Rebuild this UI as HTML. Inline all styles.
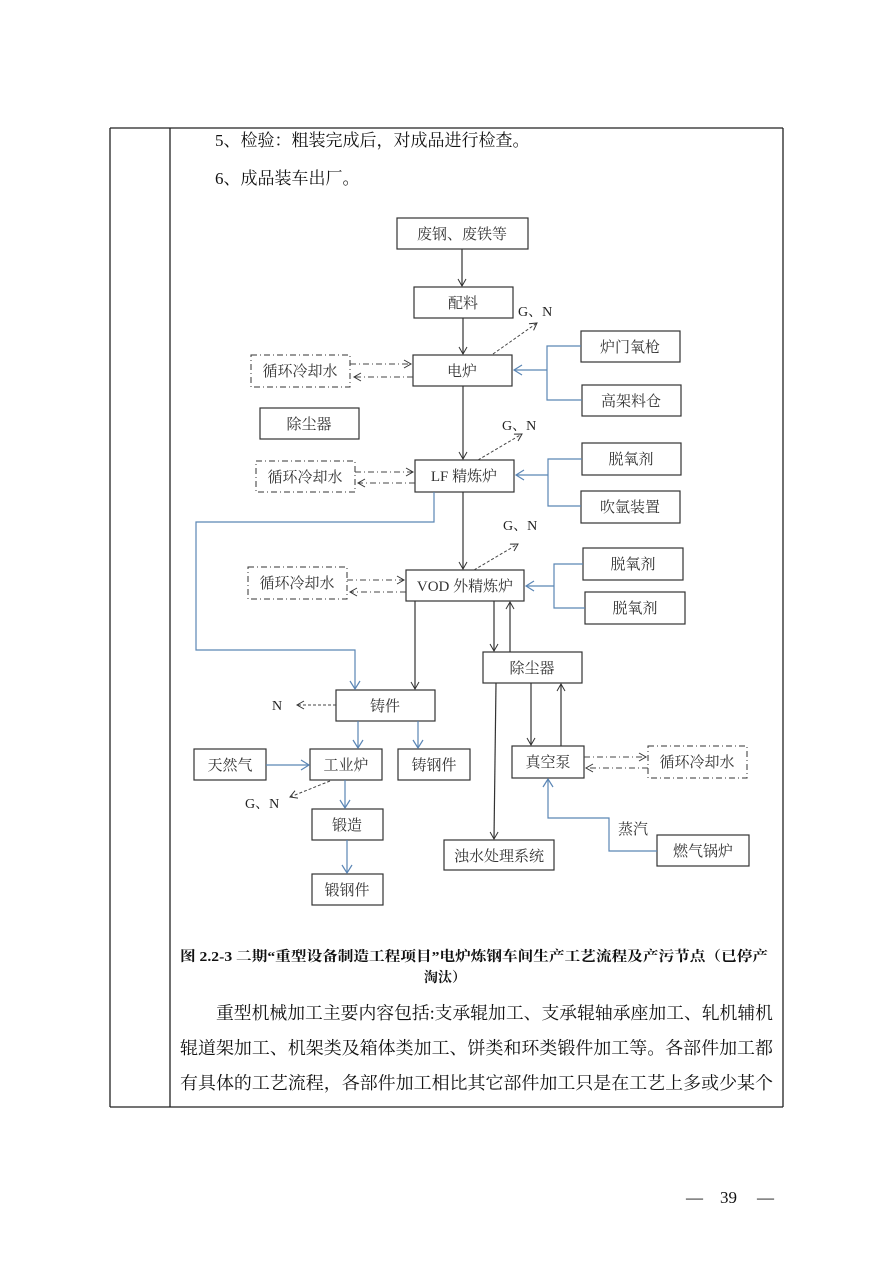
<!DOCTYPE html>
<html><head><meta charset="utf-8"><style>
html,body{margin:0;padding:0;background:#fff;}
svg{display:block;}
text{font-family:"Liberation Serif","Noto Serif CJK SC","Noto Sans CJK SC",serif;}
</style></head><body>
<svg width="892" height="1262" viewBox="0 0 892 1262" xmlns="http://www.w3.org/2000/svg">
<defs>
<marker id="ab" markerWidth="10" markerHeight="10" refX="8" refY="5" orient="auto" markerUnits="userSpaceOnUse"><path d="M1,1 L8,5 L1,9" fill="none" stroke="#333" stroke-width="1"/></marker>
<marker id="abl" markerWidth="12" markerHeight="12" refX="9" refY="6" orient="auto" markerUnits="userSpaceOnUse"><path d="M1,1 L9,6 L1,11" fill="none" stroke="#5b86b5" stroke-width="1.2"/></marker>
</defs>
<g stroke="#222" stroke-width="1.3" fill="none">
<line x1="110" y1="128" x2="783" y2="128"/>
<line x1="110" y1="1107" x2="783" y2="1107"/>
<line x1="110" y1="128" x2="110" y2="1107"/>
<line x1="170" y1="128" x2="170" y2="1107"/>
<line x1="783" y1="128" x2="783" y2="1107"/>
</g>
<g font-size="17" fill="#111">
<text x="215" y="146">5、检验：粗装完成后，对成品进行检查。</text>
<text x="215" y="184">6、成品装车出厂。</text>
</g>
<g stroke="#333" stroke-width="1.2" fill="#fff">
<rect x="397" y="218" width="131" height="31"/>
<rect x="414" y="287" width="99" height="31"/>
<rect x="413" y="355" width="99" height="31"/>
<rect x="260" y="408" width="99" height="31"/>
<rect x="581" y="331" width="99" height="31"/>
<rect x="582" y="385" width="99" height="31"/>
<rect x="415" y="460" width="99" height="32"/>
<rect x="582" y="443" width="99" height="32"/>
<rect x="581" y="491" width="99" height="32"/>
<rect x="406" y="570" width="118" height="31"/>
<rect x="583" y="548" width="100" height="32"/>
<rect x="585" y="592" width="100" height="32"/>
<rect x="336" y="690" width="99" height="31"/>
<rect x="194" y="749" width="72" height="31"/>
<rect x="310" y="749" width="72" height="31"/>
<rect x="398" y="749" width="72" height="31"/>
<rect x="312" y="809" width="71" height="31"/>
<rect x="312" y="874" width="71" height="31"/>
<rect x="483" y="652" width="99" height="31"/>
<rect x="512" y="746" width="72" height="32"/>
<rect x="444" y="840" width="110" height="30"/>
<rect x="657" y="835" width="92" height="31"/>
</g>
<g stroke="#333" stroke-width="1" fill="#fff" stroke-dasharray="6,3,1,3">
<rect x="251" y="355" width="99" height="32"/>
<rect x="256" y="461" width="99" height="31"/>
<rect x="248" y="567" width="99" height="32"/>
<rect x="648" y="746" width="99" height="32"/>
</g>
<g font-size="15" fill="#333" text-anchor="middle">
<text x="462" y="239">废钢、废铁等</text>
<text x="463" y="308">配料</text>
<text x="462" y="376">电炉</text>
<text x="309" y="429">除尘器</text>
<text x="630" y="352">炉门氧枪</text>
<text x="631" y="406">高架料仓</text>
<text x="464" y="481">LF 精炼炉</text>
<text x="631" y="464">脱氧剂</text>
<text x="630" y="512">吹氩装置</text>
<text x="465" y="591">VOD 外精炼炉</text>
<text x="633" y="569">脱氧剂</text>
<text x="635" y="613">脱氧剂</text>
<text x="385" y="711">铸件</text>
<text x="230" y="770">天然气</text>
<text x="346" y="770">工业炉</text>
<text x="434" y="770">铸钢件</text>
<text x="347" y="830">锻造</text>
<text x="347" y="895">锻钢件</text>
<text x="532" y="673">除尘器</text>
<text x="548" y="767">真空泵</text>
<text x="499" y="861">浊水处理系统</text>
<text x="703" y="856">燃气锅炉</text>
<text x="300" y="376">循环冷却水</text>
<text x="305" y="482">循环冷却水</text>
<text x="297" y="588">循环冷却水</text>
<text x="697" y="767">循环冷却水</text>
<text x="633" y="834">蒸汽</text>
</g>
<g font-size="14" fill="#222">
<text x="518" y="316">G、N</text>
<text x="502" y="430">G、N</text>
<text x="503" y="530">G、N</text>
<text x="272" y="710">N</text>
<text x="245" y="808">G、N</text>
</g>
<g stroke="#333" stroke-width="1.2" fill="none" marker-end="url(#ab)">
<line x1="462" y1="249" x2="462" y2="286"/>
<line x1="463" y1="318" x2="463" y2="354"/>
<line x1="463" y1="386" x2="463" y2="459"/>
<line x1="463" y1="492" x2="463" y2="569"/>
<line x1="415" y1="601" x2="415" y2="689"/>
<line x1="494" y1="601" x2="494" y2="651"/>
<line x1="510" y1="652" x2="510" y2="602"/>
<line x1="531" y1="683" x2="531" y2="745"/>
<line x1="561" y1="746" x2="561" y2="684"/>
<line x1="496" y1="683" x2="494" y2="839"/>
</g>
<g stroke="#444" stroke-width="1" fill="none" stroke-dasharray="3,2" marker-end="url(#ab)">
<line x1="493" y1="354" x2="537" y2="323"/>
<line x1="478" y1="460" x2="522" y2="434"/>
<line x1="474" y1="570" x2="518" y2="544"/>
<line x1="336" y1="705" x2="297" y2="705"/>
<line x1="330" y1="781" x2="290" y2="797"/>
</g>
<g stroke="#444" stroke-width="1" fill="none" stroke-dasharray="6,3,1,3" marker-end="url(#ab)">
<line x1="350" y1="364" x2="411" y2="364"/>
<line x1="413" y1="377" x2="354" y2="377"/>
<line x1="355" y1="472" x2="413" y2="472"/>
<line x1="415" y1="483" x2="358" y2="483"/>
<line x1="347" y1="580" x2="404" y2="580"/>
<line x1="406" y1="592" x2="350" y2="592"/>
<line x1="584" y1="757" x2="646" y2="757"/>
<line x1="648" y1="768" x2="586" y2="768"/>
</g>
<g stroke="#5b86b5" stroke-width="1.2" fill="none">
<polyline points="581,346 547,346 547,400 582,400"/>
<polyline points="582,459 548,459 548,506 581,506"/>
<polyline points="583,564 554,564 554,608 585,608"/>
<polyline points="657,851 609,851 609,818 548,818 548,779" marker-end="url(#abl)"/>
<line x1="547" y1="370" x2="514" y2="370" marker-end="url(#abl)"/>
<line x1="548" y1="475" x2="516" y2="475" marker-end="url(#abl)"/>
<line x1="554" y1="586" x2="526" y2="586" marker-end="url(#abl)"/>
<polyline points="434,492 434,522 196,522 196,650 355,650 355,689" marker-end="url(#abl)"/>
<line x1="358" y1="721" x2="358" y2="748" marker-end="url(#abl)"/>
<line x1="418" y1="721" x2="418" y2="748" marker-end="url(#abl)"/>
<line x1="266" y1="765" x2="309" y2="765" marker-end="url(#abl)"/>
<line x1="345" y1="780" x2="345" y2="808" marker-end="url(#abl)"/>
<line x1="347" y1="840" x2="347" y2="873" marker-end="url(#abl)"/>
</g>
<g font-size="14" font-weight="bold" fill="#111">
<text x="180" y="961" textLength="588" lengthAdjust="spacingAndGlyphs">图 2.2-3 二期“重型设备制造工程项目”电炉炼钢车间生产工艺流程及产污节点（已停产</text>
<text x="445" y="982" text-anchor="middle">淘汰）</text>
</g>
<g font-size="17.5" fill="#111">
<text x="216" y="1019" textLength="557" lengthAdjust="spacingAndGlyphs">重型机械加工主要内容包括:支承辊加工、支承辊轴承座加工、轧机辅机</text>
<text x="180" y="1054" textLength="593" lengthAdjust="spacingAndGlyphs">辊道架加工、机架类及箱体类加工、饼类和环类锻件加工等。各部件加工都</text>
<text x="180" y="1089" textLength="593" lengthAdjust="spacingAndGlyphs">有具体的工艺流程，各部件加工相比其它部件加工只是在工艺上多或少某个</text>
</g>
<g font-size="17" fill="#111">
<text x="686" y="1203">—</text>
<text x="720" y="1203">39</text>
<text x="757" y="1203">—</text>
</g>
</svg>
</body></html>
